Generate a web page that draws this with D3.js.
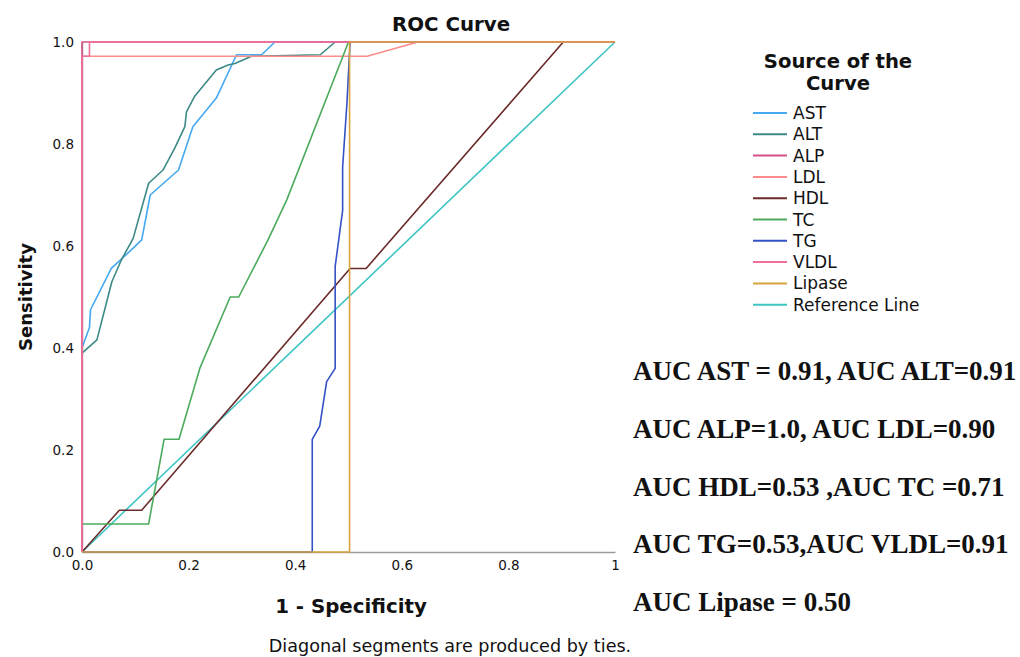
<!DOCTYPE html>
<html>
<head>
<meta charset="utf-8">
<script src="https://cdn.jsdelivr.net/npm/d3@7"></script>
<style>
  body { margin: 0; background: #fff; }
  text { font-family: "DejaVu Sans", sans-serif; fill: #111; }
</style>
</head>
<body>
<div id="chart"></div>
<script>
(function() {

  var width = 1020, height = 657;

  // curve points, [1 - specificity, sensitivity]
  var astPts = [[0,0],[0,0.40],[0.014,0.44],[0.016,0.475],[0.055,0.556],[0.09,0.59],[0.112,0.612],[0.128,0.70],[0.181,0.749],[0.208,0.834],[0.252,0.89],[0.29,0.975],[0.337,0.975],[0.362,1],[1,1]];
  var altPts = [[0,0],[0,0.39],[0.028,0.416],[0.056,0.53],[0.074,0.573],[0.096,0.615],[0.125,0.723],[0.152,0.749],[0.174,0.792],[0.193,0.834],[0.196,0.863],[0.211,0.893],[0.252,0.945],[0.274,0.955],[0.287,0.958],[0.318,0.972],[0.447,0.975],[0.475,1],[1,1]];
  var alpPts = [[0,0],[0,1],[1,1]];
  var ldlPts = [[0,0],[0,0.972],[0.535,0.972],[0.63,1],[1,1]];
  var hdlPts = [[0,0],[0.07,0.082],[0.112,0.082],[0.503,0.556],[0.533,0.556],[0.903,1],[1,1]];
  var tcPts = [[0,0],[0,0.055],[0.125,0.055],[0.154,0.221],[0.182,0.221],[0.221,0.36],[0.278,0.5],[0.294,0.5],[0.349,0.612],[0.384,0.69],[0.5,1],[1,1]];
  var tgPts = [[0,0],[0.432,0],[0.432,0.221],[0.446,0.247],[0.459,0.334],[0.475,0.36],[0.475,0.56],[0.489,0.67],[0.489,0.755],[0.497,0.879],[0.503,1],[1,1]];
  var vldlPts = [[0,0],[0,0.972],[0.014,0.972],[0.014,1],[1,1]];
  var lipasePts = [[0,0],[0.502,0],[0.502,1],[1,1]];
  var refPts = [[0,0],[1,1]];

  var seriesNames = ["AST", "ALT", "ALP", "LDL", "HDL", "TC", "TG", "VLDL", "Lipase", "Reference Line"];
  var seriesPts = [astPts, altPts, alpPts, ldlPts, hdlPts, tcPts, tgPts, vldlPts, lipasePts, refPts];
  var seriesColors = ["#45a8f0", "#3b8a86", "#d6508a", "#ff8c8c", "#6b2b2b", "#4caa5c", "#3451c6", "#f0709a", "#d8a43e", "#3ec4c2"];

  var xTicks = [0, 0.2, 0.4, 0.6, 0.8, 1];
  var xTickLabels = ["0.0", "0.2", "0.4", "0.6", "0.8", "1"];
  var yTicks = [0, 0.2, 0.4, 0.6, 0.8, 1];
  var yTickLabels = ["0.0", "0.2", "0.4", "0.6", "0.8", "1.0"];

  var aucLines = [
    "AUC AST = 0.91, AUC ALT=0.91",
    "AUC ALP=1.0, AUC LDL=0.90",
    "AUC HDL=0.53 ,AUC TC =0.71",
    "AUC TG=0.53,AUC VLDL=0.91",
    "AUC Lipase = 0.50"
  ];

  var svg = d3.select("#chart")
    .append("svg")
    .attr("width", width)
    .attr("height", height);

  var x = d3.scaleLinear().domain([0, 1]).range([82, 615]);
  var y = d3.scaleLinear().domain([0, 1]).range([552, 42]);

  // axes
  svg.append("g")
    .attr("transform", "translate(0," + y(0) + ")")
    .call(d3.axisBottom(x).tickValues(xTicks).tickSize(0).tickPadding(8)
      .tickFormat(function(d, i) { return xTickLabels[i]; }));
  svg.append("g")
    .attr("transform", "translate(" + x(0) + ",0)")
    .call(d3.axisLeft(y).tickValues(yTicks).tickSize(0).tickPadding(8)
      .tickFormat(function(d, i) { return yTickLabels[i]; }));

  svg.selectAll(".domain").attr("stroke", "#9a9a9a").attr("stroke-width", 1.5);
  svg.selectAll(".tick text")
    .style("font-family", "DejaVu Sans, sans-serif")
    .style("font-size", "13.5px")
    .attr("fill", "#222");

  var line = d3.line()
    .x(function(d) { return x(d[0]); })
    .y(function(d) { return y(d[1]); });

  // reference line first, then the curves
  var order = [9, 0, 1, 3, 4, 5, 6, 2, 7, 8];
  order.forEach(function(i) {
    svg.append("path")
      .datum(seriesPts[i])
      .attr("d", line)
      .attr("fill", "none")
      .attr("stroke", seriesColors[i])
      .attr("stroke-width", 1.6)
      .attr("stroke-linejoin", "round");
  });

  // titles
  svg.append("text")
    .attr("x", 451).attr("y", 31)
    .attr("text-anchor", "middle")
    .style("font-size", "19.8px").style("font-weight", "bold")
    .text("ROC Curve");

  svg.append("text")
    .attr("transform", "translate(32,297) rotate(-90)")
    .attr("text-anchor", "middle")
    .style("font-size", "18px").style("font-weight", "bold")
    .text("Sensitivity");

  svg.append("text")
    .attr("x", 351).attr("y", 613)
    .attr("text-anchor", "middle")
    .style("font-size", "19.8px").style("font-weight", "bold")
    .text("1 - Specificity");

  svg.append("text")
    .attr("x", 450).attr("y", 652)
    .attr("text-anchor", "middle")
    .style("font-size", "17.6px")
    .text("Diagonal segments are produced by ties.");

  // legend
  var legend = svg.append("g");
  legend.append("text")
    .attr("x", 838).attr("y", 68)
    .attr("text-anchor", "middle")
    .style("font-size", "19.6px").style("font-weight", "bold")
    .text("Source of the");
  legend.append("text")
    .attr("x", 838).attr("y", 90)
    .attr("text-anchor", "middle")
    .style("font-size", "19.6px").style("font-weight", "bold")
    .text("Curve");

  var items = legend.selectAll(".item")
    .data(seriesNames)
    .enter().append("g")
    .attr("class", "item")
    .attr("transform", function(d, i) {
      return "translate(0," + (113 + i * 21.3) + ")";
    });
  items.append("line")
    .attr("x1", 753).attr("x2", 787)
    .attr("y1", 0).attr("y2", 0)
    .attr("stroke", function(d, i) { return seriesColors[i]; })
    .attr("stroke-width", 2);
  items.append("text")
    .attr("x", 793).attr("y", 6)
    .style("font-size", "17px")
    .text(function(d) { return d; });

  // AUC notes
  svg.selectAll(".auc")
    .data(aucLines)
    .enter().append("text")
    .attr("class", "auc")
    .attr("x", 633)
    .attr("y", function(d, i) { return 380 + i * 57.8; })
    .style("font-family", "Liberation Serif, Times New Roman, serif")
    .style("font-size", "27px")
    .style("font-weight", "bold")
    .attr("fill", "#000")
    .text(function(d) { return d; });

})();
</script>
</body>
</html>
